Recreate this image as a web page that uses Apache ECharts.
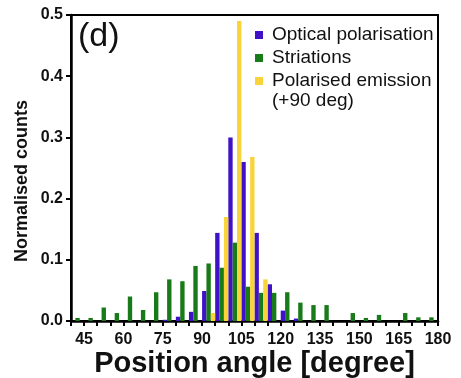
<!DOCTYPE html>
<html>
<head>
<meta charset="utf-8">
<script src="https://cdn.jsdelivr.net/npm/echarts@6/dist/echarts.min.js"></script>
<style>
  html, body { margin: 0; padding: 0; background: #fff; }
  #container { width: 461px; height: 378px; }
</style>
</head>
<body>
<div id="container"></div>
<script>
// 5 degree bins from 40 to 180
var categories = ['40-45', '45-50', '50-55', '55-60', '60-65', '65-70', '70-75',
    '75-80', '80-85', '85-90', '90-95', '95-100', '100-105', '105-110',
    '110-115', '115-120', '120-125', '125-130', '130-135', '135-140',
    '140-145', '145-150', '150-155', '155-160', '160-165', '165-170',
    '170-175', '175-180'];

var opticalPol = [0, 0, 0, 0, 0, 0, 0, 0.002, 0.007, 0.015, 0.049, 0.144, 0.300, 0.260,
    0.144, 0.060, 0.017, 0.004, 0, 0, 0, 0, 0, 0, 0, 0, 0, 0];

var striations = [0.005, 0.005, 0.022, 0.013, 0.040, 0.018, 0.047, 0.068, 0.065, 0.090,
    0.094, 0.087, 0.128, 0.056, 0.046, 0.046, 0.047, 0.030, 0.026, 0.026,
    0, 0.013, 0.005, 0.010, 0, 0.013, 0.006, 0.006];

var polEmission = [0, 0, 0, 0, 0, 0, 0, 0, 0, 0, 0.013, 0.170, 0.490, 0.268,
    0.068, 0, 0, 0, 0, 0, 0, 0, 0, 0, 0, 0, 0, 0];

var xTickLabels = ['45', '60', '75', '90', '105', '120', '135', '150', '165', '180'];
var yTickLabels = ['0.0', '0.1', '0.2', '0.3', '0.4', '0.5'];

var font = "'Liberation Sans', Arial, sans-serif";
var ink = '#111';

var myChart = echarts.init(document.getElementById('container'));

var option = {
    animation: false,
    backgroundColor: '#fff',
    textStyle: { fontFamily: font },
    grid: {
        left: 71, right: 23, top: 15, bottom: 57,
        outerBoundsMode: 'none', // keep the plot box where it is
        show: true,
        borderColor: '#000',
        borderWidth: 2
    },
    legend: {
        orient: 'vertical',
        left: 255, top: 25,
        padding: 0,
        itemWidth: 8, itemHeight: 8,
        itemGap: 3,
        icon: 'rect',
        textStyle: { fontFamily: font, fontSize: 19, color: ink, lineHeight: 20, padding: [0, 0, 0, 4] },
        data: ['Optical polarisation', 'Striations', 'Polarised emission']
    },
    graphic: [
        {
            type: 'text', left: 272, top: 91,
            style: { text: '(+90 deg)', font: '19px ' + font, fill: ink }
        },
        {
            type: 'text', left: 78, top: 20,
            style: { text: '(d)', font: '34px ' + font, fill: ink }
        }
    ],
    xAxis: [
        {
            // bins for the bars
            type: 'category',
            data: categories,
            show: false,
            position: 'bottom',
            boundaryGap: true
        },
        {
            // angle scale for ticks and labels
            type: 'value',
            position: 'bottom',
            min: 40, max: 180, interval: 5,
            name: 'Position angle [degree]',
            nameLocation: 'middle',
            nameGap: 28,
            nameMoveOverlap: false,
            nameTextStyle: { fontFamily: font, fontSize: 29, fontWeight: 'bold', color: ink },
            splitLine: { show: false },
            axisLine: { show: true, lineStyle: { color: '#000', width: 2.5 } },
            axisTick: { show: true, length: 5, lineStyle: { color: '#000', width: 2 } },
            axisLabel: {
                margin: 11,
                fontFamily: font, fontSize: 16, fontWeight: 'bold', color: ink,
                formatter: function (v) {
                    var s = String(v);
                    return xTickLabels.indexOf(s) >= 0 ? s : '';
                }
            }
        }
    ],
    yAxis: {
        type: 'value',
        min: 0, max: 0.5, interval: 0.1,
        name: 'Normalised counts',
        nameLocation: 'middle',
        nameGap: 40,
        nameMoveOverlap: false,
        nameTextStyle: { fontFamily: font, fontSize: 18, fontWeight: 'bold', color: ink, padding: [0, 26, 0, 0] },
        splitLine: { show: false },
        axisLine: { show: true, lineStyle: { color: '#000', width: 2.5 } },
        axisTick: { show: true, length: 5, lineStyle: { color: '#000', width: 2 } },
        axisLabel: {
            margin: 8,
            fontFamily: font, fontSize: 16, fontWeight: 'bold', color: ink,
            formatter: function (v) {
                return yTickLabels[Math.round(v * 10)];
            }
        }
    },
    series: [
        {
            name: 'Optical polarisation',
            type: 'bar',
            xAxisIndex: 0,
            barGap: '0%',
            barCategoryGap: '0%',
            itemStyle: { color: '#3f12c8' },
            data: opticalPol
        },
        {
            name: 'Striations',
            type: 'bar',
            xAxisIndex: 0,
            itemStyle: { color: '#187a18' },
            data: striations
        },
        {
            name: 'Polarised emission',
            type: 'bar',
            xAxisIndex: 0,
            itemStyle: { color: '#f8d33a' },
            data: polEmission
        }
    ]
};

myChart.setOption(option);
</script>
</body>
</html>
